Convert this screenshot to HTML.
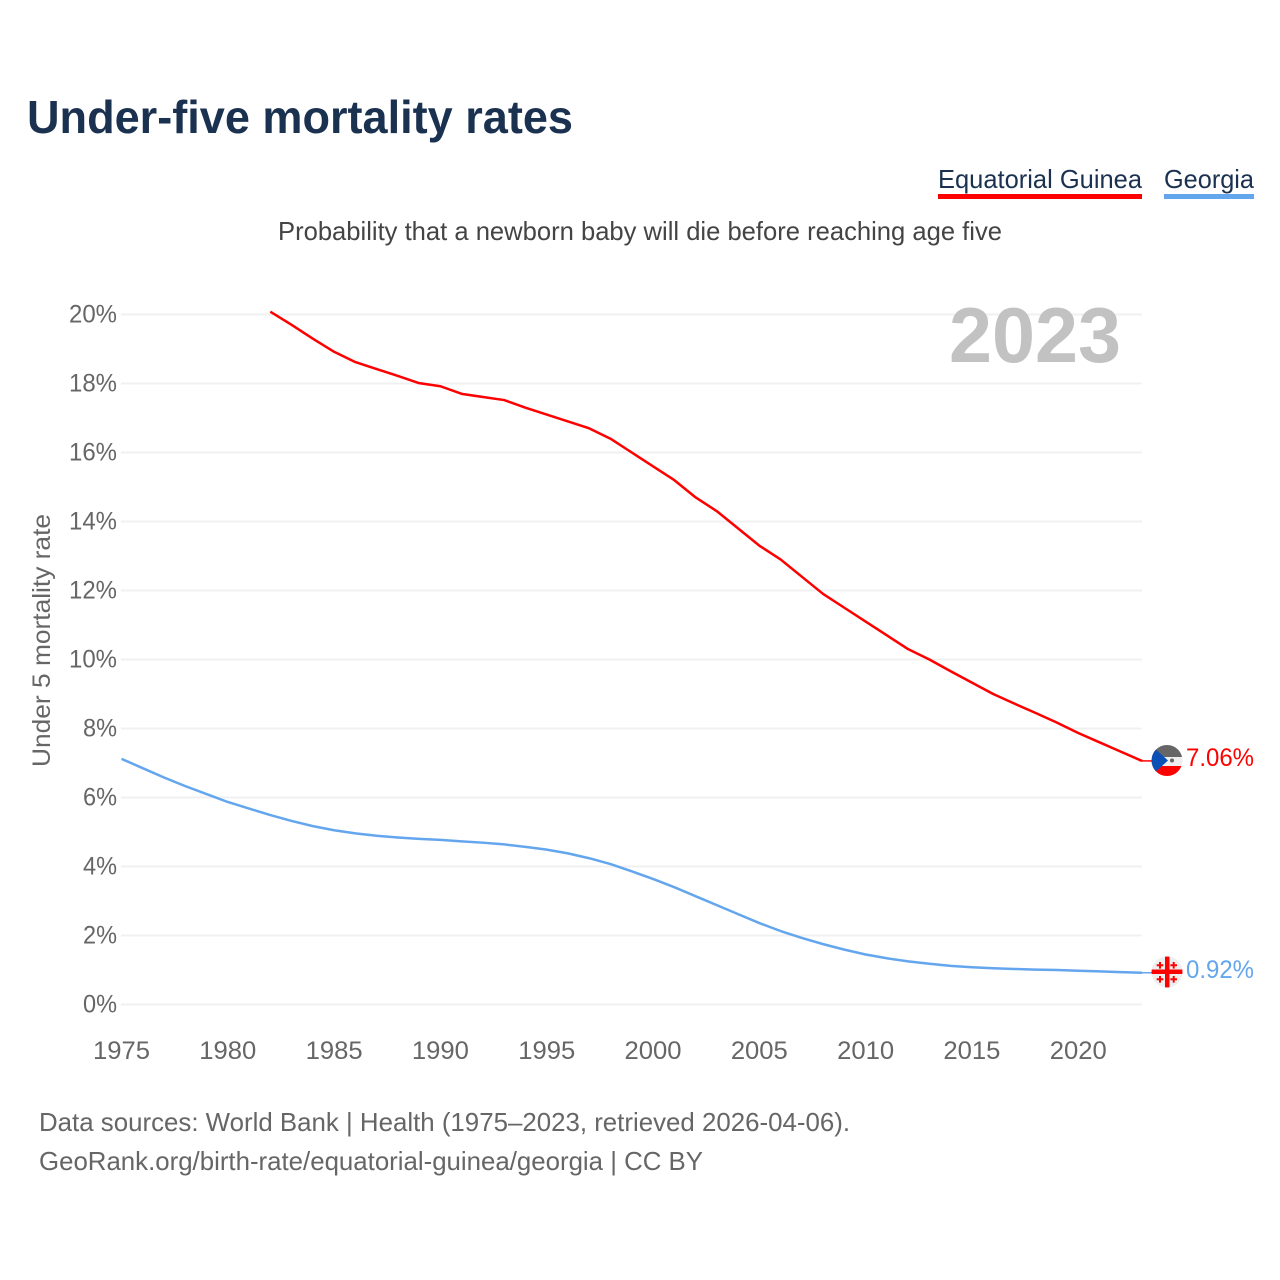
<!DOCTYPE html>
<html lang="en">
<head>
<meta charset="utf-8">
<title>Under-five mortality rates</title>
<style>
html,body{margin:0;padding:0;background:#fff;}
svg{display:block;font-family:"Liberation Sans",sans-serif;}
</style>
</head>
<body>
<svg id="chart" width="1280" height="1280" viewBox="0 0 1280 1280" xmlns="http://www.w3.org/2000/svg">
  <defs>
    <clipPath id="flag-clip-a"><circle cx="1167" cy="760.5" r="15.5"/></clipPath>
    <clipPath id="flag-clip-b"><circle cx="1167" cy="972" r="15.5"/></clipPath>
  </defs>
  <rect width="1280" height="1280" fill="#fff"/>

  <text x="27" y="133" font-size="46" font-weight="700" fill="#1a3150" textLength="546" lengthAdjust="spacingAndGlyphs">Under-five mortality rates</text>

  <g>
    <text x="938" y="188" font-size="26" fill="#1a3150" textLength="204" lengthAdjust="spacingAndGlyphs">Equatorial Guinea</text>
    <rect x="938" y="194" width="204" height="5" fill="#ff0000"/>
  </g>
  <g>
    <text x="1164" y="188" font-size="26" fill="#1a3150" textLength="90" lengthAdjust="spacingAndGlyphs">Georgia</text>
    <rect x="1164" y="194" width="90" height="5" fill="#63a6ee"/>
  </g>

  <text x="278" y="240" font-size="26" fill="#444" textLength="724" lengthAdjust="spacingAndGlyphs">Probability that a newborn baby will die before reaching age five</text>

  <g id="grid"></g>
  <g id="y-ticks"></g>
  <g id="x-ticks"></g>

  <text transform="translate(50 640.5) rotate(-90)" text-anchor="middle" font-size="25" fill="#666" textLength="253" lengthAdjust="spacingAndGlyphs">Under 5 mortality rate</text>

  <text x="949" y="362" font-size="78" font-weight="700" fill="#c2c2c2" textLength="172" lengthAdjust="spacingAndGlyphs">2023</text>

  <g id="series"></g>

  <g id="flag-a">
    <g clip-path="url(#flag-clip-a)">
      <rect x="1151" y="745" width="32" height="12" fill="#666"/>
      <rect x="1151" y="757" width="32" height="9" fill="#eeeeee"/>
      <rect x="1151" y="766" width="32" height="11" fill="#ff0000"/>
      <polygon points="1151,745 1168,760.5 1151,776" fill="#0b50b5"/>
      <circle cx="1172" cy="760.5" r="2" fill="#666"/>
    </g>
  </g>
  <g id="flag-b">
    <g clip-path="url(#flag-clip-b)">
      <rect x="1151" y="956" width="32" height="32" fill="#eeeeee"/>
      <rect x="1165" y="956" width="4.500" height="32" fill="#ff0000"/>
      <rect x="1151" y="969.500" width="32" height="4.500" fill="#ff0000"/>
      <path d="M1159 962h2v2.300h2.300v2h-2.300v2.300h-2v-2.300h-2.300v-2h2.300zM1172.700 962h2v2.300h2.300v2h-2.300v2.300h-2v-2.300h-2.300v-2h2.300zM1159 976h2v2.300h2.300v2h-2.300v2.300h-2v-2.300h-2.300v-2h2.300zM1172.700 976h2v2.300h2.300v2h-2.300v2.300h-2v-2.300h-2.300v-2h2.300z" fill="#ff0000"/>
    </g>
  </g>

  <text id="label-a" x="1186" y="766" font-size="25" fill="#ff0000" textLength="68" lengthAdjust="spacingAndGlyphs"></text>
  <text id="label-b" x="1186" y="978" font-size="25" fill="#63a6ee" textLength="68" lengthAdjust="spacingAndGlyphs"></text>

  <text x="39" y="1131" font-size="26" fill="#666" textLength="811" lengthAdjust="spacingAndGlyphs">Data sources: World Bank | Health (1975–2023, retrieved 2026-04-06).</text>
  <text x="39" y="1170" font-size="26" fill="#666" textLength="664" lengthAdjust="spacingAndGlyphs">GeoRank.org/birth-rate/equatorial-guinea/georgia | CC BY</text>
</svg>

<script>
const guineaStartYear = 1982;
const georgiaStartYear = 1975;
const guineaValues = [20.08,19.7,19.3,18.92,18.62,18.42,18.22,18.01,17.92,17.7,17.61,17.52,17.3,17.1,16.9,16.7,16.4,16.0,15.6,15.2,14.7,14.3,13.8,13.3,12.9,12.4,11.9,11.5,11.1,10.7,10.3,10.0,9.66,9.33,9.0,8.72,8.45,8.17,7.87,7.6,7.33,7.06];
const georgiaValues = [7.12,6.85,6.58,6.33,6.1,5.87,5.68,5.49,5.32,5.17,5.05,4.96,4.89,4.84,4.8,4.77,4.73,4.69,4.64,4.57,4.49,4.38,4.24,4.07,3.86,3.64,3.4,3.14,2.88,2.62,2.36,2.13,1.93,1.75,1.59,1.45,1.34,1.25,1.18,1.12,1.08,1.05,1.03,1.01,1.0,0.98,0.96,0.94,0.92];
const yTickValues = [0,2,4,6,8,10,12,14,16,18,20];
const xTickValues = [1975,1980,1985,1990,1995,2000,2005,2010,2015,2020];

const NS = 'http://www.w3.org/2000/svg';
function xScale(year){ return 121.5 + (year - 1975) * (1142 - 121.5) / (2023 - 1975); }
function yScale(value){ return 1004.5 - value * 34.5; }

const gridGroup = document.getElementById('grid');
const yGroup = document.getElementById('y-ticks');
const xGroup = document.getElementById('x-ticks');
const seriesGroup = document.getElementById('series');

yTickValues.forEach(function(v){
  const line = document.createElementNS(NS, 'line');
  
  
  line.setAttribute('x1', 121);
  line.setAttribute('x2', 1142);
  line.setAttribute('y1', yScale(v));
  line.setAttribute('y2', yScale(v));
  line.setAttribute('stroke', '#f0f0f0');
  line.setAttribute('stroke-width', 2);
  gridGroup.appendChild(line);

  const label = document.createElementNS(NS, 'text');
  
  
  label.setAttribute('x', 117);
  label.setAttribute('y', yScale(v) + 8);
  label.setAttribute('text-anchor', 'end');
  label.setAttribute('font-size', 25);
  label.setAttribute('fill', '#666');
  label.setAttribute('textLength', String(v).length * 14 + 20);
  label.setAttribute('lengthAdjust', 'spacingAndGlyphs');
  label.textContent = v + '%';
  yGroup.appendChild(label);
});

xTickValues.forEach(function(year){
  const label = document.createElementNS(NS, 'text');
  
  
  label.setAttribute('x', xScale(year));
  label.setAttribute('y', 1059);
  label.setAttribute('text-anchor', 'middle');
  label.setAttribute('font-size', 25);
  label.setAttribute('fill', '#666');
  label.setAttribute('textLength', 57);
  label.setAttribute('lengthAdjust', 'spacingAndGlyphs');
  label.textContent = String(year);
  xGroup.appendChild(label);
});

function pathFor(values, startYear){
  return values.map(function(v, i){
    return (i ? 'L' : 'M') + xScale(startYear + i).toFixed(2) + ' ' + yScale(v).toFixed(2);
  }).join(' ');
}

const georgiaLine = document.createElementNS(NS, 'path');


georgiaLine.setAttribute('d', pathFor(georgiaValues, georgiaStartYear));
georgiaLine.setAttribute('fill', 'none');
georgiaLine.setAttribute('stroke', '#63a6ee');
georgiaLine.setAttribute('stroke-width', 2.5);
georgiaLine.setAttribute('stroke-linejoin', 'round');
seriesGroup.appendChild(georgiaLine);

const guineaLine = document.createElementNS(NS, 'path');


guineaLine.setAttribute('d', pathFor(guineaValues, guineaStartYear));
guineaLine.setAttribute('fill', 'none');
guineaLine.setAttribute('stroke', '#ff0000');
guineaLine.setAttribute('stroke-width', 2.5);
guineaLine.setAttribute('stroke-linejoin', 'round');
seriesGroup.appendChild(guineaLine);

const guineaLast = guineaValues[guineaValues.length - 1];
const georgiaLast = georgiaValues[georgiaValues.length - 1];

const guineaLead = document.createElementNS(NS, 'line');


guineaLead.setAttribute('x1', 1142);
guineaLead.setAttribute('x2', 1152);
guineaLead.setAttribute('y1', yScale(guineaLast));
guineaLead.setAttribute('y2', yScale(guineaLast));
guineaLead.setAttribute('stroke', '#ff0000');
guineaLead.setAttribute('stroke-width', 1.5);
seriesGroup.appendChild(guineaLead);

const georgiaLead = document.createElementNS(NS, 'line');


georgiaLead.setAttribute('x1', 1142);
georgiaLead.setAttribute('x2', 1152);
georgiaLead.setAttribute('y1', yScale(georgiaLast));
georgiaLead.setAttribute('y2', yScale(georgiaLast));
georgiaLead.setAttribute('stroke', '#63a6ee');
georgiaLead.setAttribute('stroke-width', 1.5);
seriesGroup.appendChild(georgiaLead);

document.getElementById('label-a').textContent = guineaLast.toFixed(2) + '%';
document.getElementById('label-b').textContent = georgiaLast.toFixed(2) + '%';
</script>
</body>
</html>
